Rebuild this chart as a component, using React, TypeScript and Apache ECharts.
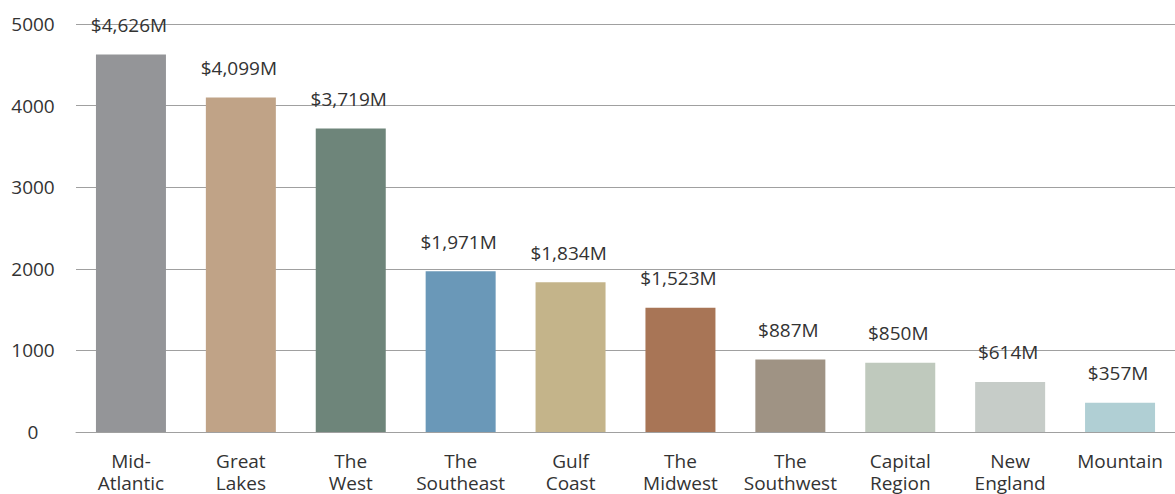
import React, { useEffect, useRef } from "react";
import * as echarts from "echarts";

const categories = [
  "Mid-\nAtlantic",
  "Great\nLakes",
  "The\nWest",
  "The\nSoutheast",
  "Gulf\nCoast",
  "The\nMidwest",
  "The\nSouthwest",
  "Capital\nRegion",
  "New\nEngland",
  "Mountain",
];
const values = [4626, 4099, 3719, 1971, 1834, 1523, 887, 850, 614, 357];
const barColors = [
  "#949598",
  "#c0a387",
  "#6e857a",
  "#6a98b8",
  "#c4b48a",
  "#a87556",
  "#9f9384",
  "#bfc9bd",
  "#c6ccc8",
  "#b0cfd4",
];
const yTicks = { min: 0, max: 5000, interval: 1000 };

const FONT = "'Open Sans', sans-serif";

export default function App() {
  const ref = useRef<HTMLDivElement>(null);
  useEffect(() => {
    if (!ref.current) return;
    const chart = echarts.init(ref.current, undefined, { renderer: "svg" });
    chart.setOption({
      animation: false,
      grid: { left: 76, right: 0, top: 24, bottom: 57, containLabel: false },
      xAxis: {
        type: "category",
        data: categories,
        axisLine: { show: true, lineStyle: { color: "#a0a0a0", width: 1 } },
        axisTick: { show: false },
        axisLabel: {
          color: "#333",
          fontFamily: FONT,
          fontSize: 19,
          lineHeight: 22,
          margin: 18,
          interval: 0,
        },
      },
      yAxis: {
        type: "value",
        min: yTicks.min,
        max: yTicks.max,
        interval: yTicks.interval,
        axisLine: { show: false },
        axisTick: { show: false },
        splitLine: { lineStyle: { color: "#a0a0a0", width: 1 } },
        axisLabel: {
          color: "#333",
          fontFamily: FONT,
          fontSize: 19,
          align: "center",
          verticalAlign: "middle",
          margin: 43,
          padding: [0, 0, 2, 0],
          formatter: (v: number) => String(v),
        },
      },
      series: [
        {
          type: "bar",
          barWidth: 70,
          data: values.map((v, i) => ({ value: v, itemStyle: { color: barColors[i] } })),
          label: {
            show: true,
            position: "top",
            distance: 20,
            offset: [-2, 0],
            color: "#333",
            fontFamily: FONT,
            fontSize: 19,
            formatter: (p: any) => "$" + p.value.toLocaleString("en-US") + "M",
          },
        },
      ],
    });
    return () => chart.dispose();
  }, []);
  return (
    <div
      ref={ref}
      style={{ position: "fixed", left: 0, top: 0, width: 1175, height: 494, background: "#fff" }}
    />
  );
}
